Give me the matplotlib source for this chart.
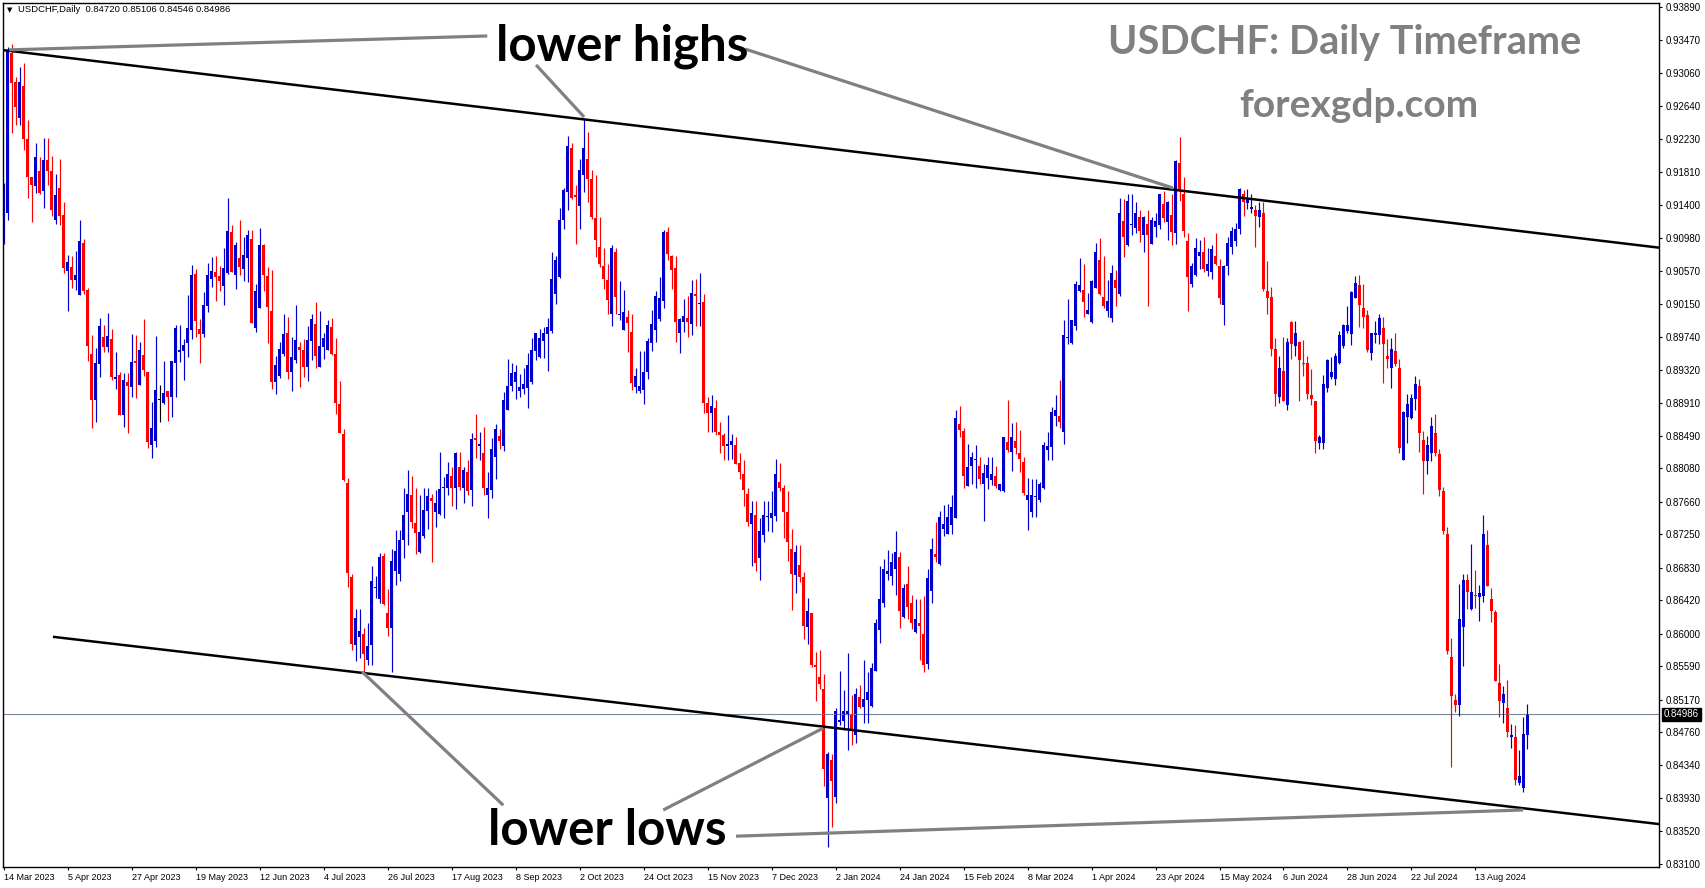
import numpy as np
import matplotlib.pyplot as plt

# USDCHF daily candles, prices in pips (x 0.0001)
# bar 0 = 14 Mar 2023, one bar per trading day
opens = [
    9096, 9130, 9331, 9295, 9249, 9290, 9223, 9175, 9164, 9183,
    9157, 9196, 9183, 9121, 9161, 9127, 9057, 9062, 9045, 9026,
    9092, 9033, 8952, 8894, 8940, 8974, 8961, 8971, 8921, 8926,
    8875, 8917, 8911, 8943, 8913, 8951, 8930, 8838, 8843, 8894,
    8890, 8906, 8898, 8941, 8955, 8956, 8966, 8982, 9053, 8984,
    8977, 9013, 9047, 9055, 9050, 9038, 9054, 9106, 9052, 9073,
    9059, 9073, 9097, 8985, 9010, 9089, 9050, 9006, 8917, 8924,
    8952, 8979, 8930, 8945, 8961, 8957, 8936, 8968, 8990, 8936,
    8961, 8957, 8986, 8952, 8889, 8851, 8790, 8671, 8586, 8596,
    8599, 8567, 8586, 8658, 8643, 8698, 8626, 8607, 8679, 8675,
    8718, 8753, 8775, 8739, 8703, 8723, 8755, 8771, 8753, 8751,
    8784, 8783, 8799, 8783, 8810, 8784, 8803, 8781, 8846, 8836,
    8827, 8775, 8781, 8822, 8849, 8836, 8882, 8912, 8917, 8906,
    8908, 8909, 8917, 8956, 8948, 8968, 8977, 8981, 9027, 9049,
    9121, 9156, 9211, 9152, 9139, 9178, 9198, 9172, 9123, 9087,
    9063, 9045, 9003, 9080, 9001, 8982, 8999, 8980, 8911, 8905,
    8907, 8930, 8966, 8982, 8996, 9019, 9106, 9075, 9060, 8979,
    8992, 8997, 8990, 9028, 9015, 9017, 8891, 8878, 8884, 8854,
    8850, 8836, 8837, 8837, 8815, 8801, 8776, 8738, 8750, 8695,
    8724, 8747, 8746, 8748, 8791, 8784, 8753, 8707, 8674, 8687,
    8671, 8608, 8626, 8561, 8546, 8530, 8393, 8441, 8394, 8489,
    8490, 8498, 8498, 8473, 8520, 8508, 8517, 8509, 8553, 8604,
    8638, 8675, 8672, 8681, 8696, 8621, 8663, 8638, 8602, 8613,
    8600, 8562, 8654, 8700, 8688, 8732, 8726, 8737, 8746, 8864,
    8855, 8786, 8811, 8818, 8811, 8789, 8796, 8793, 8798, 8781,
    8780, 8841, 8829, 8843, 8827, 8816, 8768, 8753, 8772, 8768,
    8783, 8831, 8835, 8874, 8874, 8854, 8972, 8966, 8987, 9031,
    9033, 9003, 8992, 9035, 9071, 9024, 9006, 8997, 9045, 9027,
    9119, 9089, 9114, 9111, 9124, 9102, 9116, 9090, 9112, 9115,
    9141, 9118, 9127, 9105, 9192, 9153, 9094, 9040, 9052, 9075,
    9080, 9057, 9055, 9076, 9063, 9014, 9063, 9087, 9094, 9110,
    9153, 9142, 9135, 9133, 9124, 9130, 9031, 9024, 8958, 8898,
    8931, 8888, 8992, 8962, 8967, 8941, 8941, 8900, 8893, 8840,
    8840, 8909, 8923, 8921, 8941, 8962, 8981, 8977, 9023, 9039,
    9010, 9001, 8953, 8976, 8976, 8985, 8949, 8935, 8956, 8935,
    8819, 8873, 8872, 8896, 8912, 8844, 8817, 8828, 8852, 8826,
    8780, 8725, 8570, 8517, 8510, 8608, 8667, 8631, 8649, 8646,
    8648, 8712, 8644, 8627, 8538, 8513, 8507, 8470, 8470, 8412,
    8406, 8472,
]
highs = [
    9167, 9339, 9342, 9301, 9313, 9318, 9247, 9175, 9218, 9200,
    9224, 9224, 9201, 9179, 9198, 9143, 9077, 9075, 9082, 9121,
    9097, 9035, 8976, 8960, 8997, 8989, 9004, 8984, 8955, 8930,
    8928, 8928, 8977, 8976, 8967, 8996, 8930, 8892, 8975, 8913,
    8943, 8906, 8943, 8989, 8989, 8971, 9026, 9064, 9059, 8996,
    9030, 9067, 9074, 9075, 9063, 9086, 9149, 9115, 9093, 9121,
    9099, 9108, 9108, 9040, 9111, 9091, 9062, 9058, 8950, 8967,
    9003, 8999, 8974, 9014, 8967, 8971, 8987, 9003, 9018, 9006,
    8978, 8995, 8998, 8972, 8918, 8858, 8796, 8675, 8631, 8631,
    8607, 8614, 8685, 8672, 8701, 8701, 8656, 8706, 8731, 8731,
    8784, 8806, 8799, 8783, 8775, 8783, 8783, 8776, 8781, 8829,
    8797, 8816, 8810, 8829, 8829, 8810, 8819, 8852, 8876, 8854,
    8860, 8804, 8846, 8864, 8858, 8904, 8946, 8941, 8938, 8927,
    8934, 8953, 8972, 8979, 8984, 8986, 8998, 9080, 9075, 9136,
    9161, 9226, 9218, 9165, 9197, 9249, 9232, 9184, 9177, 9124,
    9085, 9065, 9089, 9086, 9044, 9033, 9008, 9002, 8935, 8956,
    8956, 8972, 9007, 9031, 9049, 9108, 9112, 9077, 9075, 8997,
    9021, 9025, 9045, 9047, 9054, 9028, 8898, 8901, 8894, 8866,
    8852, 8875, 8851, 8848, 8828, 8819, 8784, 8767, 8767, 8746,
    8767, 8767, 8779, 8820, 8815, 8787, 8779, 8732, 8711, 8712,
    8677, 8645, 8626, 8577, 8579, 8549, 8451, 8448, 8506, 8553,
    8529, 8576, 8523, 8531, 8535, 8567, 8552, 8563, 8618, 8685,
    8694, 8705, 8702, 8729, 8703, 8663, 8685, 8649, 8643, 8643,
    8648, 8681, 8720, 8741, 8755, 8762, 8763, 8774, 8882, 8886,
    8859, 8839, 8829, 8838, 8822, 8813, 8822, 8822, 8811, 8789,
    8847, 8894, 8865, 8866, 8856, 8823, 8796, 8795, 8795, 8791,
    8841, 8854, 8885, 8900, 8919, 8995, 9021, 8995, 9044, 9073,
    9065, 9029, 9045, 9092, 9098, 9075, 9045, 9064, 9058, 9148,
    9147, 9153, 9153, 9144, 9134, 9126, 9133, 9125, 9130, 9154,
    9157, 9145, 9154, 9196, 9225, 9175, 9105, 9067, 9098, 9096,
    9100, 9085, 9089, 9104, 9072, 9064, 9100, 9112, 9117, 9161,
    9158, 9160, 9154, 9140, 9144, 9144, 9069, 9036, 8972, 8949,
    8974, 8972, 8994, 8994, 8969, 8970, 8949, 8933, 8893, 8850,
    8926, 8946, 8948, 8953, 8981, 8990, 9013, 9031, 9050, 9052,
    9040, 9007, 8979, 8994, 9002, 8999, 8971, 8972, 8979, 8946,
    8880, 8902, 8902, 8925, 8921, 8855, 8849, 8873, 8877, 8833,
    8785, 8734, 8595, 8524, 8663, 8675, 8675, 8713, 8680, 8661,
    8750, 8730, 8658, 8630, 8562, 8534, 8542, 8486, 8485, 8453,
    8495, 8511,
]
lows = [
    9090, 9121, 9230, 9240, 9240, 9209, 9149, 9118, 9155, 9154,
    9136, 9165, 9126, 9116, 9115, 9054, 9006, 9035, 9033, 9026,
    9028, 8943, 8859, 8867, 8923, 8955, 8955, 8919, 8908, 8875,
    8860, 8853, 8898, 8897, 8913, 8924, 8834, 8821, 8835, 8867,
    8889, 8868, 8873, 8898, 8942, 8919, 8948, 8971, 8974, 8941,
    8974, 9005, 9036, 9019, 9031, 9014, 9053, 9055, 9034, 9052,
    9044, 9043, 8991, 8980, 9010, 9031, 8966, 8908, 8902, 8922,
    8950, 8921, 8906, 8941, 8911, 8923, 8918, 8944, 8934, 8936,
    8946, 8957, 8951, 8876, 8852, 8792, 8659, 8580, 8565, 8569,
    8552, 8561, 8561, 8645, 8638, 8636, 8597, 8552, 8661, 8666,
    8695, 8712, 8733, 8700, 8701, 8720, 8732, 8690, 8734, 8750,
    8745, 8774, 8761, 8757, 8781, 8765, 8774, 8761, 8821, 8818,
    8774, 8745, 8771, 8795, 8832, 8830, 8881, 8905, 8895, 8898,
    8902, 8884, 8914, 8945, 8947, 8947, 8931, 8979, 9015, 9048,
    9110, 9133, 9147, 9091, 9110, 9156, 9144, 9122, 9074, 9062,
    9034, 9002, 8987, 9003, 8995, 8982, 8955, 8907, 8903, 8903,
    8889, 8921, 8956, 8967, 8994, 9010, 9071, 9034, 8967, 8953,
    8980, 8973, 8976, 8987, 8987, 8878, 8854, 8854, 8850, 8827,
    8819, 8819, 8820, 8813, 8795, 8761, 8736, 8685, 8679, 8668,
    8715, 8729, 8728, 8742, 8779, 8720, 8691, 8630, 8651, 8665,
    8593, 8587, 8558, 8515, 8530, 8408, 8332, 8357, 8387, 8485,
    8479, 8454, 8460, 8462, 8506, 8488, 8488, 8508, 8553, 8588,
    8634, 8667, 8661, 8649, 8607, 8620, 8618, 8606, 8601, 8567,
    8552, 8555, 8639, 8690, 8687, 8723, 8726, 8726, 8746, 8847,
    8783, 8786, 8789, 8784, 8789, 8742, 8782, 8787, 8784, 8780,
    8778, 8829, 8805, 8826, 8804, 8774, 8730, 8747, 8747, 8766,
    8782, 8819, 8819, 8862, 8859, 8839, 8965, 8965, 8982, 9030,
    8999, 9003, 8991, 9035, 9026, 9010, 8999, 8992, 9012, 9025,
    9074, 9088, 9102, 9105, 9093, 9081, 9012, 9090, 9099, 9109,
    9118, 9096, 9089, 9091, 9145, 9099, 9006, 9036, 9050, 9059,
    9055, 9050, 9046, 9064, 9015, 8988, 9052, 9078, 9088, 9103,
    9126, 9135, 9129, 9087, 9112, 9032, 9003, 8950, 8886, 8891,
    8893, 8881, 8946, 8950, 8893, 8924, 8895, 8888, 8827, 8833,
    8833, 8904, 8921, 8913, 8939, 8960, 8979, 8964, 9022, 8986,
    8985, 8954, 8944, 8966, 8965, 8916, 8934, 8909, 8937, 8827,
    8819, 8840, 8870, 8882, 8829, 8776, 8801, 8817, 8824, 8773,
    8725, 8574, 8432, 8501, 8496, 8559, 8631, 8630, 8632, 8616,
    8640, 8660, 8615, 8540, 8495, 8488, 8470, 8456, 8409, 8409,
    8400, 8455,
]
closes = [
    9142, 9335, 9293, 9263, 9295, 9223, 9175, 9165, 9200, 9155,
    9196, 9183, 9133, 9152, 9126, 9060, 9068, 9045, 9052, 9094,
    9031, 8962, 8894, 8941, 8987, 8961, 8975, 8923, 8923, 8875,
    8919, 8912, 8942, 8941, 8957, 8932, 8841, 8859, 8907, 8894,
    8903, 8898, 8943, 8985, 8957, 8964, 8985, 9052, 8994, 8977,
    9014, 9052, 9057, 9049, 9044, 9060, 9107, 9055, 9089, 9062,
    9077, 9102, 8991, 9031, 9089, 9052, 9011, 8917, 8938, 8958,
    8977, 8930, 8948, 8970, 8957, 8936, 8970, 8996, 8950, 8962,
    8972, 8989, 8952, 8891, 8853, 8793, 8676, 8587, 8620, 8603,
    8575, 8585, 8666, 8659, 8697, 8637, 8607, 8692, 8704, 8718,
    8750, 8776, 8741, 8727, 8728, 8756, 8773, 8767, 8764, 8782,
    8785, 8801, 8784, 8827, 8785, 8806, 8779, 8845, 8844, 8839,
    8784, 8784, 8833, 8858, 8843, 8894, 8912, 8928, 8930, 8910,
    8914, 8938, 8957, 8978, 8972, 8978, 8986, 9046, 9071, 9121,
    9159, 9214, 9149, 9150, 9184, 9211, 9173, 9124, 9096, 9066,
    9047, 9020, 9085, 9024, 9002, 9005, 8991, 8915, 8925, 8912,
    8930, 8969, 8990, 9025, 9022, 9106, 9078, 9058, 8992, 8996,
    9000, 8992, 9029, 9025, 9016, 8891, 8878, 8887, 8854, 8850,
    8836, 8839, 8842, 8814, 8803, 8781, 8740, 8752, 8689, 8729,
    8750, 8748, 8752, 8801, 8784, 8753, 8715, 8675, 8703, 8671,
    8610, 8628, 8561, 8558, 8537, 8430, 8449, 8415, 8502, 8491,
    8502, 8502, 8479, 8524, 8508, 8518, 8526, 8557, 8614, 8643,
    8681, 8679, 8690, 8703, 8628, 8658, 8634, 8613, 8618, 8610,
    8560, 8670, 8706, 8696, 8747, 8738, 8747, 8759, 8872, 8857,
    8799, 8810, 8823, 8820, 8795, 8802, 8812, 8801, 8786, 8789,
    8847, 8831, 8848, 8834, 8820, 8777, 8775, 8774, 8773, 8789,
    8838, 8836, 8879, 8881, 8866, 8976, 8973, 8995, 9040, 9039,
    9017, 9008, 9044, 9081, 9027, 9012, 9019, 9054, 9035, 9129,
    9100, 9145, 9116, 9130, 9107, 9125, 9102, 9121, 9119, 9153,
    9123, 9144, 9106, 9195, 9157, 9107, 9049, 9063, 9085, 9080,
    9059, 9066, 9084, 9066, 9022, 9063, 9092, 9107, 9110, 9160,
    9144, 9149, 9137, 9126, 9133, 9034, 9022, 8958, 8902, 8935,
    8893, 8967, 8965, 8978, 8944, 8939, 8902, 8896, 8842, 8847,
    8914, 8944, 8930, 8949, 8976, 8988, 8988, 9030, 9041, 9014,
    8999, 8957, 8978, 8979, 8997, 8965, 8946, 8958, 8939, 8834,
    8879, 8889, 8897, 8914, 8852, 8817, 8838, 8861, 8827, 8781,
    8729, 8578, 8522, 8510, 8618, 8668, 8652, 8652, 8647, 8651,
    8725, 8660, 8628, 8540, 8515, 8524, 8476, 8472, 8416, 8421,
    8474, 8499,
]

# time axis labels, one every 16 bars
date_labels = ['14 Mar 2023', '5 Apr 2023', '27 Apr 2023', '19 May 2023', '12 Jun 2023',
               '4 Jul 2023', '26 Jul 2023', '17 Aug 2023', '8 Sep 2023', '2 Oct 2023',
               '24 Oct 2023', '15 Nov 2023', '7 Dec 2023', '2 Jan 2024', '24 Jan 2024',
               '15 Feb 2024', '8 Mar 2024', '1 Apr 2024', '23 Apr 2024', '15 May 2024',
               '6 Jun 2024', '28 Jun 2024', '22 Jul 2024', '13 Aug 2024']
price_ticks = [0.93890, 0.93470, 0.93060, 0.92640, 0.92230, 0.91810, 0.91400, 0.90980,
               0.90570, 0.90150, 0.89740, 0.89320, 0.88910, 0.88490, 0.88080, 0.87660,
               0.87250, 0.86830, 0.86420, 0.86000, 0.85590, 0.85170, 0.84760, 0.84340,
               0.83930, 0.83520, 0.83100]
last_price = 0.84986
header = 'USDCHF,Daily  0.84720 0.85106 0.84546 0.84986'

# channel lines: (bar, price) anchors
upper_anchor = [(1, 0.93340), (145, 0.92475)]
lower_anchor = [(90, 0.85504), (206, 0.84823)]
lower_start = 12.6

# grey pointer lines: ((bar, price), (bar, price))
highs_pointers = [((120.9, 0.93525), (1.4, 0.93350)),
                  ((133.1, 0.93160), (145.1, 0.92505)),
                  ((185.4, 0.93360), (292.4, 0.91610))]
lows_pointers = [((124.9, 0.83840), (89.6, 0.85520)),
                 ((164.9, 0.83780), (204.9, 0.84810)),
                 ((183.1, 0.83450), (379.9, 0.83780))]

o = np.array(opens) / 10000
h = np.array(highs) / 10000
l = np.array(lows) / 10000
c = np.array(closes) / 10000
x = np.arange(len(c))

W, H = 1705, 888
fig = plt.figure(figsize=(W / 100, H / 100), dpi=100)
ax = fig.add_axes([3 / W, 21 / H, 1656 / W, 864 / H])

bull, bear = '#0000CD', '#FF0000'
cols = np.where(c > o, bull, np.where(c < o, bear, '#000000'))

ax.vlines(x, l, h, colors=cols, linewidth=0.85)
body = np.maximum(np.abs(c - o), 0.00012)
ax.bar(x, body, bottom=np.minimum(o, c), width=0.75, color=cols, linewidth=0)

xmax = 413.9
ax.set_xlim(-0.2, xmax)
ax.set_ylim(0.83062, 0.93940)

# current price line
ax.axhline(last_price, color='#778899', linewidth=0.8, zorder=1)

# channel
ax.axline(upper_anchor[0], upper_anchor[1], color='black', linewidth=1.8)
(x1, y1), (x2, y2) = lower_anchor
slope = (y2 - y1) / (x2 - x1)
ax.plot([lower_start, xmax], [y1 + slope * (lower_start - x1), y1 + slope * (xmax - x1)],
        color='black', linewidth=1.8)

for (a, b) in highs_pointers + lows_pointers:
    ax.plot([a[0], b[0]], [a[1], b[1]], color='#808080', linewidth=2.3, solid_capstyle='butt')

ax.text(154.6, 0.93220, 'lower highs', ha='center', va='baseline', fontsize=35.5,
        fontweight='bold', family='Lato', color='black')
ax.text(150.9, 0.83340, 'lower lows', ha='center', va='baseline', fontsize=35.5,
        fontweight='bold', family='Lato', color='black')

fig.text(1345 / W, 1 - 54 / H, 'USDCHF: Daily Timeframe', ha='center', va='baseline',
         fontsize=28.5, fontweight='bold', family='Lato', color='#808080')
fig.text(1359 / W, 1 - 117 / H, 'forexgdp.com', ha='center', va='baseline',
         fontsize=28, fontweight='bold', family='Lato', color='#808080')

fig.text(7 / W, 1 - 10 / H, '\u25BC', ha='left', va='center', fontsize=5, color='black')
fig.text(18 / W, 1 - 10 / H, header, ha='left', va='center', fontsize=6.8,
         family='Liberation Sans', color='black')

# axes styling
for s in ax.spines.values():
    s.set_color('black')
    s.set_linewidth(1.0)

ax.yaxis.tick_right()
ax.set_yticks(price_ticks)
ax.set_yticklabels(['%.5f' % v for v in price_ticks], family='Liberation Sans')
ax.tick_params(axis='y', direction='out', length=2.5, width=0.8, pad=2.2, labelsize=7)

ax.set_xticks(np.arange(len(date_labels)) * 16)
ax.set_xticklabels(date_labels, ha='left', family='Liberation Sans')
ax.tick_params(axis='x', direction='out', length=2.5, width=0.8, pad=2.0, labelsize=6.5)

ax.text(1.0 + 5 / 1656, last_price, '%.5f' % last_price, transform=ax.get_yaxis_transform(),
        ha='left', va='center', fontsize=7, family='Liberation Sans', color='white',
        bbox=dict(facecolor='black', edgecolor='black', pad=1.2), clip_on=False)

fig.savefig('out.png', dpi=100, facecolor='white')
